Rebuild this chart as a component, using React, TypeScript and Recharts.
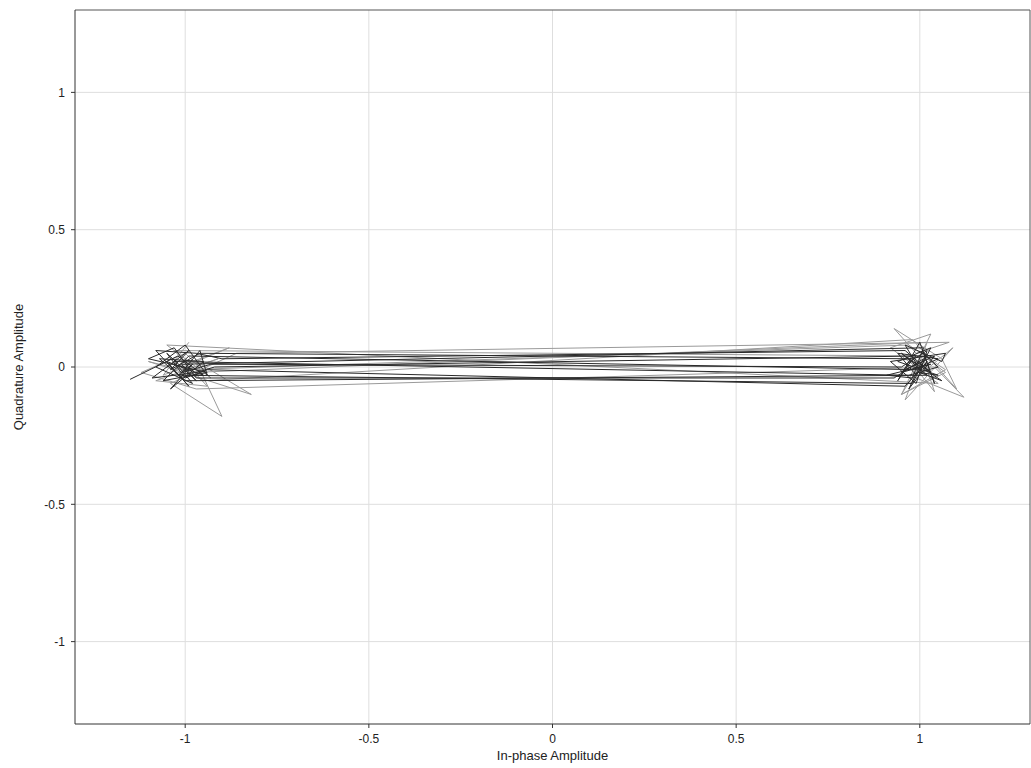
import { LineChart, Line, XAxis, YAxis, CartesianGrid, ReferenceLine } from 'recharts';

// dark trace of the received symbols (in-phase, quadrature)
const darkI = [
  -1.15, -1.02, -0.95, -1.05, -0.99, -1.08, -0.97, -0.9,
  0.96, 1.03, 0.98, 0.94, 1.0, 1.04, 1.01, 1.05, 0.97,
  -1.03, -0.98, -1.08, -1.0, -0.94, -0.96, -1.01, -0.93,
  0.95, 1.02, 0.99, 0.92, 1.07, 1.06, 0.96, 1.0,
  -0.99, -1.06, -0.94, -1.1, -1.03, -0.97,
  0.93, 1.01, 0.97, 1.04, 0.96, 0.99, 0.95, 1.02,
  -1.0, -1.07, -0.95, -1.04, -0.98, -1.02,
  0.98, 1.03, 0.94, 1.05, 1.0, 1.06, 0.97,
  -0.96, -1.04, -0.99, -1.09, -0.97, -0.92,
  0.99, 0.95, 1.03, 0.91, 0.98, 1.01,
  -1.01, -0.97, -1.05, -1.0, -0.94,
  0.96, 1.02, 0.99, 0.94, 1.05, 1.0,
];
const darkQ = [
  -0.045, 0.04, -0.03, 0.02, -0.07, 0.06, 0.05, 0.03,
  0.06, -0.02, 0.03, -0.05, 0.09, -0.06, 0.05, 0.0, -0.03,
  0.02, -0.06, 0.0, 0.08, -0.03, 0.06, -0.02, 0.01,
  0.0, 0.06, -0.06, 0.02, 0.05, 0.02, 0.08, -0.01,
  0.04, -0.05, -0.02, 0.03, 0.07, -0.04,
  -0.04, 0.03, -0.08, 0.04, -0.01, 0.01, 0.05, -0.03,
  -0.05, 0.03, 0.02, -0.08, 0.01, -0.03,
  -0.06, 0.07, 0.02, -0.03, -0.02, -0.05, 0.03,
  0.05, -0.01, 0.06, -0.04, -0.02, 0.0,
  0.04, -0.02, 0.01, -0.03, -0.04, 0.07,
  0.01, -0.05, 0.05, -0.04, -0.01,
  -0.07, 0.02, -0.03, 0.05, 0.03, 0.0,
];

// lighter trace
const greyI = [
  -0.99, -1.06, -0.88, -1.02, -0.95,
  0.98, 1.1, 1.06, 0.93, 0.99, 1.08,
  -0.86, -1.04, -0.9, -0.97, -0.82, -1.1, -0.98,
  1.02, 0.96, 1.09, 0.99, 1.12, 1.04,
  -0.97, -1.12, -1.0, -0.93, -1.05,
  1.05, 0.92, 1.03, 0.95, 1.07, 1.01,
  -1.03, -0.94, -1.08, -0.91, -1.0,
  0.97, 1.07, 0.95, 1.01, 1.04, 0.98,
];
const greyQ = [
  0.09, -0.03, 0.07, 0.0, -0.05,
  0.1, -0.08, 0.03, 0.14, 0.05, 0.09,
  0.05, -0.06, -0.18, 0.02, -0.1, 0.02, -0.02,
  0.09, -0.12, 0.07, -0.04, -0.11, 0.0,
  -0.08, -0.02, 0.05, -0.04, 0.08,
  -0.06, 0.07, 0.12, -0.1, -0.02, 0.04,
  0.06, -0.07, -0.05, 0.03, -0.01,
  0.08, -0.01, -0.1, 0.03, -0.09, 0.01,
];

const ticks = [-1, -0.5, 0, 0.5, 1];

const dark = darkI.map((x, i) => ({ x, y: darkQ[i] }));
const grey = greyI.map((x, i) => ({ x, y: greyQ[i] }));

const font = { fontFamily: 'Liberation Sans, Arial, sans-serif', fontSize: 12, fill: '#222' };

export default function App() {
  return (
    <div style={{ position: 'absolute', left: 0, top: 0, background: '#fff' }}>
      <LineChart width={1031} height={768} margin={{ top: 10, right: 1, bottom: 14, left: 0 }}>
        <CartesianGrid stroke="#dedede" horizontalValues={ticks} verticalValues={ticks} />
        <XAxis
          type="number"
          dataKey="x"
          domain={[-1.3, 1.3]}
          ticks={ticks}
          allowDataOverflow
          height={30}
          stroke="#333"
          tickSize={4}
          tickMargin={6}
          tick={font}
          label={{ value: 'In-phase Amplitude', position: 'insideBottom', offset: -6, style: { ...font, fontSize: 13 } }}
        />
        <YAxis
          type="number"
          dataKey="y"
          domain={[-1.3, 1.3]}
          ticks={ticks}
          allowDataOverflow
          width={75}
          stroke="#333"
          tickSize={4}
          tickMargin={6}
          tick={font}
          label={{ value: 'Quadrature Amplitude', angle: -90, position: 'insideLeft', offset: 18, style: { ...font, fontSize: 13, textAnchor: 'middle' } }}
        />
        <ReferenceLine y={1.3} stroke="#555" />
        <ReferenceLine x={1.3} stroke="#555" />
        <Line data={grey} dataKey="y" type="linear" stroke="#9a9a9a" strokeWidth={1} dot={false} isAnimationActive={false} />
        <Line data={dark} dataKey="y" type="linear" stroke="#2a2a2a" strokeWidth={1} dot={false} isAnimationActive={false} />
      </LineChart>
    </div>
  );
}
